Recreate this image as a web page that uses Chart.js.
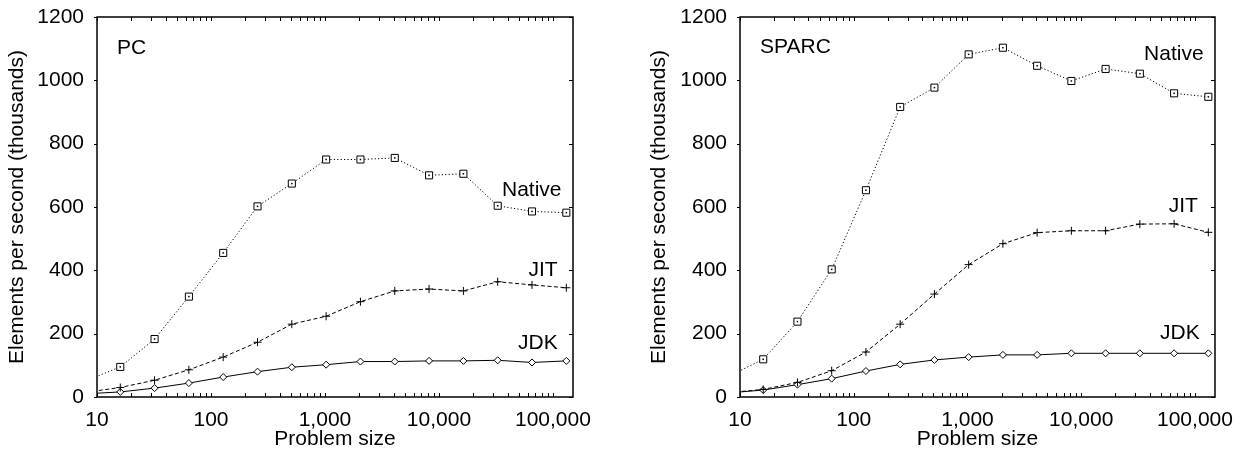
<!DOCTYPE html>
<html>
<head>
<meta charset="utf-8">
<script src="https://cdn.jsdelivr.net/npm/chart.js@4/dist/chart.umd.min.js"></script>
<style>
  html, body { margin: 0; padding: 0; background: #fff; }
  .wrap { position: absolute; top: 0; height: 453px; }
  #left { left: 0; width: 623px; }
  #right { left: 623px; width: 624px; }
</style>
</head>
<body>
<div class="wrap" id="left"><canvas id="pc"></canvas></div>
<div class="wrap" id="right"><canvas id="sparc"></canvas></div>
<script>
// problem sizes (first one lies left of the axis, only the line enters the plot)
const sizes = [8, 16, 32, 64, 128, 256, 512, 1024, 2048, 4096, 8192, 16384, 32768, 65536, 131072];
const xTicks = [10, 100, 1000, 10000, 100000];
const yTicks = [0, 200, 400, 600, 800, 1000, 1200];

const pcNative = [51, 95, 183, 317, 455, 602, 674, 750, 750, 755, 700, 705, 604, 586, 582];
const pcJit = [15, 30, 53, 86, 126, 173, 230, 255, 301, 335, 341, 335, 364, 354, 345];
const pcJdk = [10, 16, 28, 44, 63, 80, 94, 102, 112, 112, 114, 114, 116, 109, 114];

const sparcNative = [66, 119, 238, 403, 653, 916, 977, 1082, 1103, 1046, 998, 1036, 1021, 959, 948];
const sparcJit = [14, 24, 46, 83, 142, 230, 325, 418, 484, 519, 525, 525, 546, 547, 520];
const sparcJdk = [13, 22, 39, 58, 82, 103, 117, 126, 133, 133, 138, 138, 138, 138, 138];

Chart.defaults.font.family = "'Liberation Sans', Arial, sans-serif";
Chart.defaults.font.size = 21;
Chart.defaults.color = '#000';

// gnuplot style box with inside ticks
const frame = {
    id: 'frame',
    afterDraw(chart) {
        const {ctx, chartArea: a} = chart;
        const x = chart.scales.x, y = chart.scales.y;
        ctx.save();
        ctx.strokeStyle = '#000';
        ctx.lineWidth = 1;
        ctx.beginPath();
        for (let d = 10; d <= 100000; d *= 10) {
            for (let m = 1; m < 10; m++) {
                const v = d * m;
                if (v > x.max) break;
                const px = Math.round(x.getPixelForValue(v)) + 0.5;
                ctx.moveTo(px, a.bottom); ctx.lineTo(px, a.bottom - 4);
                ctx.moveTo(px, a.top); ctx.lineTo(px, a.top + 4);
            }
        }
        yTicks.forEach(v => {
            const py = Math.round(y.getPixelForValue(v)) + 0.5;
            ctx.moveTo(a.left - 3, py); ctx.lineTo(a.left, py);
            ctx.moveTo(a.right, py); ctx.lineTo(a.right - 4, py);
        });
        ctx.stroke();
        ctx.lineWidth = 1.5;
        ctx.strokeRect(a.left, a.top, a.right - a.left, a.bottom - a.top);
        ctx.restore();
    }
};

// dot in the middle of the square markers + text labels
const notes = {
    id: 'notes',
    afterDatasetsDraw(chart, args, opts) {
        const {ctx, chartArea: a} = chart;
        const x = chart.scales.x, y = chart.scales.y;
        ctx.save();
        chart.data.datasets.forEach((ds, i) => {
            if (!ds.centerDot) return;
            chart.getDatasetMeta(i).data.forEach(p => {
                if (p.x < a.left || p.x > a.right) return;
                ctx.fillStyle = '#000';
                ctx.fillRect(p.x - 0.75, p.y - 0.75, 1.5, 1.5);
            });
        });
        ctx.font = "21px 'Liberation Sans', Arial, sans-serif";
        ctx.fillStyle = '#000';
        ctx.textBaseline = 'middle';
        opts.items.forEach(t => {
            ctx.textAlign = t.align;
            ctx.fillText(t.text, x.getPixelForValue(t.x), y.getPixelForValue(t.y));
        });
        ctx.restore();
    }
};

function series(label, values, kind) {
    const base = {
        label: label,
        data: values,
        borderColor: '#000',
        borderWidth: 1,
        backgroundColor: '#fff',
        pointBorderColor: '#000',
        pointBorderWidth: 1,
        pointBackgroundColor: '#fff',
        tension: 0,
    };
    if (kind === 'native') {
        return Object.assign(base, {borderDash: [1.2, 2.2], pointStyle: 'rect', pointRadius: 5, centerDot: true});
    }
    if (kind === 'jit') {
        return Object.assign(base, {borderDash: [4, 2.5], pointStyle: 'cross', pointRadius: 4});
    }
    return Object.assign(base, {pointStyle: 'rectRot', pointRadius: 3.5});
}

function makeChart(id, native, jit, jdk, items, padLeft, yWidth, padRight) {
    return new Chart(document.getElementById(id), {
        type: 'line',
        data: {
            labels: sizes,
            datasets: [
                series('Native', native, 'native'),
                series('JIT', jit, 'jit'),
                series('JDK', jdk, 'jdk'),
            ]
        },
        options: {
            responsive: true,
            maintainAspectRatio: false,
            animation: false,
            events: [],
            layout: {
                padding: {left: padLeft, top: 17, right: padRight, bottom: 0}
            },
            scales: {
                x: {
                    type: 'logarithmic',
                    min: 10,
                    max: 150000,
                    grid: {display: false},
                    border: {display: false},
                    afterBuildTicks: (scale) => {
                        scale.ticks = xTicks.map(v => ({value: v}));
                    },
                    afterFit: (scale) => {
                        scale.height = 56;
                        scale.paddingLeft = 0;
                        scale.paddingRight = 0;
                    },
                    ticks: {
                        padding: 3,
                        maxRotation: 0,
                        autoSkip: false,
                        callback: (v) => Number(v).toLocaleString('en-US'),
                    },
                    title: {
                        display: true,
                        text: 'Problem size',
                        padding: {top: 0, bottom: 1},
                    }
                },
                y: {
                    min: 0,
                    max: 1200,
                    grid: {display: false},
                    border: {display: false},
                    afterBuildTicks: (scale) => {
                        scale.ticks = yTicks.map(v => ({value: v}));
                    },
                    afterFit: (scale) => {
                        scale.width = yWidth;
                        scale.paddingTop = 0;
                        scale.paddingBottom = 0;
                    },
                    ticks: {
                        padding: 5,
                        callback: (v) => String(v),
                    },
                    title: {
                        display: true,
                        text: 'Elements per second (thousands)',
                        padding: {top: 5, bottom: 0},
                    }
                }
            },
            plugins: {
                legend: {display: false},
                tooltip: {enabled: false},
                notes: {items: items}
            }
        },
        plugins: [frame, notes]
    });
}

makeChart('pc', pcNative, pcJit, pcJdk, [
    {text: 'PC', x: 15, y: 1101, align: 'left'},
    {text: 'Native', x: 119000, y: 652, align: 'right'},
    {text: 'JIT', x: 110000, y: 401, align: 'right'},
    {text: 'JDK', x: 110000, y: 171, align: 'right'},
], 0, 97, 50);

makeChart('sparc', sparcNative, sparcJit, sparcJdk, [
    {text: 'SPARC', x: 15, y: 1104, align: 'left'},
    {text: 'Native', x: 119000, y: 1081, align: 'right'},
    {text: 'JIT', x: 106000, y: 604, align: 'right'},
    {text: 'JDK', x: 110000, y: 203, align: 'right'},
], 19, 98, 32);
</script>
</body>
</html>
